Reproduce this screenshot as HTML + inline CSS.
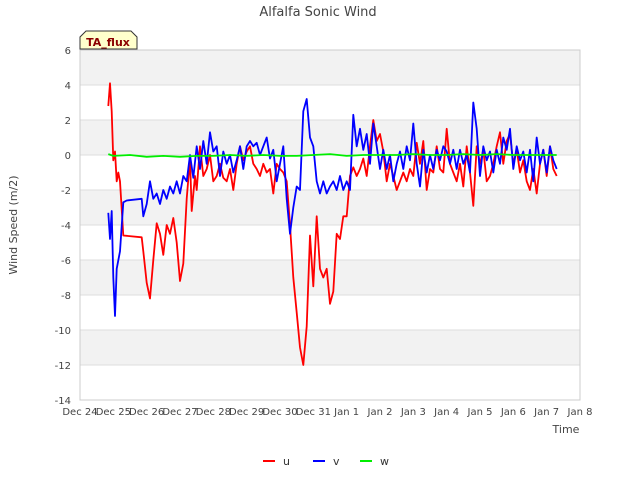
<!DOCTYPE html>
<html><head><meta charset="utf-8"><style>
body{margin:0;background:#fff;font-family:"Liberation Sans","DejaVu Sans",sans-serif}
svg text{font-family:"DejaVu Sans","Liberation Sans",sans-serif}
</style></head><body>
<svg id="chart" width="640" height="480" xmlns="http://www.w3.org/2000/svg">
<text x="318" y="16" text-anchor="middle" font-size="13" fill="#444">Alfalfa Sonic Wind</text>
<g id="bands"></g><g id="grid"></g>
<rect x="80" y="50" width="500" height="350" fill="none" stroke="#ccc"/>
<g id="yticks"></g><g id="xticks"></g>
<text transform="translate(17,225) rotate(-90)" text-anchor="middle" font-size="11" fill="#444">Wind Speed (m/2)</text>
<text x="566" y="433" text-anchor="middle" font-size="11" fill="#444">Time</text>
<g id="series"></g>
<g>
<path d="M80,49 L80,37 L86,31 L131,31 L137,37 L137,49 Z" fill="#ffffcc" stroke="#333"/>
<text x="108" y="46" text-anchor="middle" font-size="11" font-weight="bold" fill="#8b0000">TA_flux</text>
</g>
<g id="legend"></g>
</svg>
<script>
const yTicks=[6,4,2,0,-2,-4,-6,-8,-10,-12,-14];
const xTickLabels=["Dec 24","Dec 25","Dec 26","Dec 27","Dec 28","Dec 29","Dec 30","Dec 31","Jan 1","Jan 2","Jan 3","Jan 4","Jan 5","Jan 6","Jan 7","Jan 8"];
const uTime=[0.85,0.9,0.95,1.0,1.05,1.1,1.15,1.2,1.3,1.85,1.9,2.0,2.1,2.2,2.3,2.4,2.5,2.6,2.7,2.8,2.9,3.0,3.1,3.2,3.3,3.35,3.45,3.5,3.6,3.7,3.8,3.9,4.0,4.1,4.2,4.3,4.4,4.5,4.6,4.7,4.8,4.9,5.0,5.1,5.2,5.3,5.4,5.5,5.6,5.7,5.8,5.9,6.0,6.1,6.2,6.3,6.4,6.5,6.6,6.7,6.8,6.9,7.0,7.1,7.2,7.3,7.4,7.5,7.6,7.7,7.8,7.9,
8.0,8.1,8.2,8.3,8.4,8.5,8.6,8.7,8.8,8.9,9.0,9.1,9.2,9.3,9.4,9.5,9.6,9.7,9.8,9.9,10.0,10.1,10.2,10.3,10.4,10.5,10.6,10.7,10.8,10.9,11.0,11.1,11.2,11.3,11.4,11.5,11.6,11.7,11.8,11.9,12.0,12.1,12.2,12.3,12.4,12.5,12.6,12.7,12.8,12.9,13.0,13.1,13.2,13.3,13.4,13.5,13.6,13.7,13.8,13.9,14.0,14.1,14.2,14.3];
const uVals=[2.8,4.1,2.5,-0.3,0.2,-1.5,-1.0,-1.5,-4.6,-4.7,-5.5,-7.3,-8.2,-6,-3.9,-4.5,-5.7,-4,-4.5,-3.6,-5,-7.2,-6.2,-2.5,-0.2,-3.2,-1.2,-2,0.5,-1.2,-0.8,0,-1.5,-1.2,-0.5,-1.3,-1.5,-0.8,-2,-0.5,0.5,-0.3,0.2,0.5,-0.5,-0.8,-1.2,-0.5,-1,-0.8,-2.2,-0.5,-0.8,-1,-1.5,-4,-7,-9,-11,-12,-9.8,-4.6,-7.5,-3.5,-6.5,-7,-6.5,-8.5,-7.8,-4.5,-4.8,-3.5,
-3.5,-1.2,-0.7,-1.2,-0.8,-0.2,-1.2,0.5,2.0,0.8,1.2,0.2,-1.5,-0.5,-1.2,-2.0,-1.5,-1.0,-1.5,-0.8,-1.2,0.7,-0.5,0.8,-2.0,-0.8,-1.0,0.5,-0.8,-1.0,1.5,-0.5,-1.0,-1.5,-0.5,-1.8,0.5,-1.0,-2.9,0.5,-0.5,0.3,-1.5,-1.2,-0.5,0.5,1.3,-0.5,0.8,1.2,-0.5,0.3,-1.0,-0.3,-1.5,-2.0,-0.8,-2.2,-0.5,0.3,-1.2,0.5,-0.8,-1.2];
const vTime=[0.85,0.9,0.95,1.0,1.05,1.1,1.2,1.3,1.4,1.85,1.9,2.0,2.1,2.2,2.3,2.4,2.5,2.6,2.7,2.8,2.9,3.0,3.1,3.2,3.3,3.4,3.5,3.6,3.7,3.8,3.9,4.0,4.1,4.2,4.3,4.4,4.5,4.6,4.7,4.8,4.9,5.0,5.1,5.2,5.3,5.4,5.5,5.6,5.7,5.8,5.9,6.0,6.1,6.2,6.3,6.4,6.5,6.6,6.7,6.8,6.9,7.0,7.1,7.2,7.3,7.4,7.5,7.6,7.7,7.8,7.9,
8.0,8.1,8.2,8.3,8.4,8.5,8.6,8.7,8.8,8.9,9.0,9.1,9.2,9.3,9.4,9.5,9.6,9.7,9.8,9.9,10.0,10.1,10.2,10.3,10.4,10.5,10.6,10.7,10.8,10.9,11.0,11.1,11.2,11.3,11.4,11.5,11.6,11.7,11.8,11.9,12.0,12.1,12.2,12.3,12.4,12.5,12.6,12.7,12.8,12.9,13.0,13.1,13.2,13.3,13.4,13.5,13.6,13.7,13.8,13.9,14.0,14.1,14.2,14.3];
const vVals=[-3.3,-4.8,-3.2,-7,-9.2,-6.5,-5.5,-2.7,-2.6,-2.5,-3.5,-2.8,-1.5,-2.5,-2.2,-2.8,-2,-2.5,-1.8,-2.2,-1.5,-2.2,-1.2,-1.5,0,-1.3,0.5,-0.8,0.8,-0.5,1.3,0.2,0.5,-1.2,0.2,-0.5,0,-1,-0.3,0.5,-0.8,0.5,0.8,0.5,0.7,0,0.5,1,-0.2,0.3,-1.5,-0.5,0.5,-2.5,-4.5,-3,-1.8,-2,2.5,3.2,1,0.5,-1.5,-2.2,-1.5,-2.2,-1.8,-1.5,-2,-1.2,-2,
-1.5,-2.0,2.3,0.5,1.5,0.3,1.2,-0.5,1.8,0.5,-0.8,0.3,-0.8,0.0,-1.5,-0.5,0.2,-0.8,0.5,-0.3,1.8,-0.5,-1.8,0.3,-1.0,0.0,-0.8,0.3,-0.3,0.5,0.2,-0.5,0.3,-0.8,0.3,-0.5,0.0,-1.0,3.0,1.5,-1.2,0.5,-0.3,0.2,-1.0,0.3,-0.5,1.0,0.3,1.5,-0.8,0.5,-0.3,0.2,-1.0,0.3,-1.5,1.0,-0.5,0.3,-1.0,0.5,-0.3,-0.8];
const wTime=[0.85,1.0,1.5,2.0,2.5,3.0,3.5,4.0,4.5,5.0,5.5,6.0,6.5,7.0,7.5,8.0,8.5,9.0,9.5,10.0,10.5,11.0,11.5,12.0,12.5,13.0,13.5,14.0,14.3];
const wVals=[0.05,-0.05,0.0,-0.1,-0.05,-0.1,-0.05,-0.05,0.0,-0.05,0.0,-0.05,-0.05,0.0,0.05,-0.05,0.0,0.0,0.0,0.05,0.0,0.0,0.05,0.0,0.05,0.0,0.0,0.0,0.0];
const NS="http://www.w3.org/2000/svg";
const X=t=>80+t*(500/15), Y=v=>50+(6-v)*17.5;
function mk(tag,attrs,parent){const e=document.createElementNS(NS,tag);for(const k in attrs)e.setAttribute(k,attrs[k]);parent.appendChild(e);return e;}
const bands=document.getElementById('bands'),grid=document.getElementById('grid'),yt=document.getElementById('yticks'),xt=document.getElementById('xticks');
for(let i=0;i<yTicks.length-1;i+=2){const b=mk('rect',{x:80,y:Y(yTicks[i]),width:500,height:Y(yTicks[i+1])-Y(yTicks[i]),fill:'#f2f2f2'},bands);

}
yTicks.forEach(v=>{const l=mk('line',{x1:80,x2:580,y1:Y(v),y2:Y(v),stroke:'#ddd'},grid);


const t=mk('text',{x:71,y:Y(v)+4,'text-anchor':'end','font-size':10,fill:'#444'},yt);t.textContent=v;

});
xTickLabels.forEach((s,i)=>{const t=mk('text',{x:X(i),y:415,'text-anchor':'middle','font-size':10,fill:'#444'},xt);t.textContent=s;

});
const ser=document.getElementById('series');
[[uTime,uVals,'#ff0000','u-series'],[vTime,vVals,'#0000ff','v-series'],[wTime,wVals,'#00ee00','w-series']].forEach(([ts,vs,c,n])=>{
const p=mk('polyline',{points:ts.map((t,i)=>X(t).toFixed(1)+','+Y(vs[i]).toFixed(1)).join(' '),fill:'none',stroke:c,'stroke-width':1.8,'stroke-linejoin':'round'},ser);

});
const lg=document.getElementById('legend');
[['u','#ff0000',263],['v','#0000ff',313],['w','#00ee00',360]].forEach(([n,c,x])=>{
const g=mk('g',{},lg);


mk('line',{x1:x,x2:x+12,y1:461,y2:461,stroke:c,'stroke-width':2},g);
const t=mk('text',{x:x+20,y:465,'font-size':11,fill:'#333'},g);t.textContent=n;});
</script>
</body></html>
